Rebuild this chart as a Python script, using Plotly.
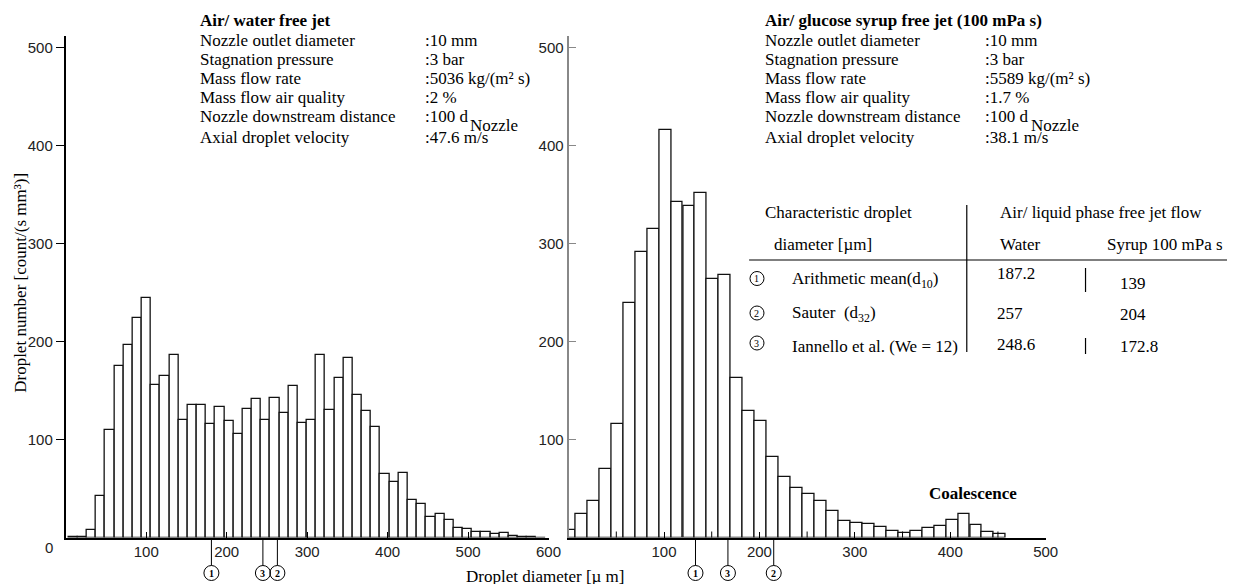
import plotly.graph_objects as go

W, H = 1243, 584

# ---------------- data ----------------
water_d = [9.0, 20.4, 31.8, 43.2, 54.6, 66.0, 77.4, 88.8, 100.2, 111.6, 123.0, 134.4, 145.8,
           157.2, 168.6, 180.0, 191.4, 202.8, 214.2, 225.6, 237.0, 248.4, 259.8, 271.2, 282.6,
           294.0, 305.4, 316.8, 328.2, 339.6, 351.0, 362.4, 373.8, 385.2, 396.6, 408.0, 419.4,
           430.8, 442.2, 453.6, 465.0, 476.4, 487.8, 499.2, 510.6, 522.0, 533.4, 544.8, 556.2,
           567.6, 579.0, 590.4]
water_n = [1, 1, 8, 42, 110, 175, 197, 224, 245, 156, 165, 186, 120,
           135, 135, 116, 133, 119, 106, 131, 141, 120, 142, 127, 155,
           117, 120, 186, 130, 163, 183, 145, 129, 113, 65, 57, 66,
           38, 34, 21, 24, 18, 10, 9, 6, 6, 4, 5, 2,
           1, 1, 0]

syrup_d = [0.9, 13.5, 26.0, 38.5, 51.1, 63.6, 76.1, 88.7, 101.2, 113.7, 126.3, 138.8, 151.3,
           163.9, 176.4, 188.9, 201.5, 214.0, 226.5, 239.1, 251.6, 264.1, 276.7, 289.2, 301.7,
           314.3, 326.8, 339.3, 351.9, 364.4, 376.9, 389.5, 402.0, 414.5, 427.1, 439.6, 452.1]
syrup_n = [8, 24, 37, 70, 116, 239, 291, 315, 416, 343, 338, 352, 264,
           268, 163, 129, 119, 82, 62, 51, 44.5, 37, 27, 16.5, 15,
           13.5, 10.4, 6.3, 4.6, 6.3, 9.4, 11.4, 18.2, 23.7, 12.4, 5.3, 3.6]

water_bin = 11.4
syrup_bin = 12.53

water_ticks = [100, 200, 300, 400, 500, 600]
syrup_ticks = [100, 200, 300, 400, 500]
syrup_minor = [50, 150, 250, 350, 450]
y_ticks = [100, 200, 300, 400, 500]

# characteristic diameters marked below the axes (label, position on axis)
water_marks = [("1", 181), ("3", 245), ("2", 263)]
syrup_marks = [("1", 133), ("3", 167), ("2", 215)]

water_info = ["Nozzle outlet diameter", "Stagnation pressure", "Mass flow rate",
              "Mass flow air quality", "Nozzle downstream distance", "Axial droplet velocity"]
water_vals = [":10 mm", ":3 bar", ":5036 kg/(m² s)", ":2 %", ":100 d", ":47.6 m/s"]
syrup_vals = [":10 mm", ":3 bar", ":5589 kg/(m² s)", ":1.7 %", ":100 d", ":38.1 m/s"]

table_rows = ["Arithmetic mean(d<sub>10</sub>)", "Sauter&nbsp; (d<sub>32</sub>)",
              "Iannello et al. (We = 12)"]
table_water = ["187.2", "257", "248.6"]
table_syrup = ["139", "204", "172.8"]

# ---------------- helpers ----------------
SERIF = "Liberation Serif, Times New Roman, serif"
SANS = "Liberation Sans, Arial, sans-serif"


def px(x):
    return x / W


def py(y):
    return 1 - y / H


annotations = []
shapes = []


def text(x, y, s, size=17, bold=False, anchor="left", family=SERIF, color="black"):
    if bold:
        s = "<b>" + s + "</b>"
    annotations.append(dict(x=px(x), y=py(y), xref="paper", yref="paper", text=s,
                            showarrow=False, xanchor=anchor, yanchor="middle",
                            font=dict(family=family, size=size, color=color)))


def pline(x0, y0, x1, y1, color="black", width=1.2):
    shapes.append(dict(type="line", xref="paper", yref="paper", x0=px(x0), y0=py(y0),
                       x1=px(x1), y1=py(y1), line=dict(color=color, width=width)))


def pcircle(x, y, r=7):
    shapes.append(dict(type="circle", xref="paper", yref="paper", xsizemode="pixel",
                       ysizemode="pixel", xanchor=px(x), yanchor=py(y), x0=-r, x1=r,
                       y0=-r, y1=r, line=dict(color="black", width=1)))


fig = go.Figure()
bar_line = dict(color="#111", width=1.3)
fig.add_trace(go.Bar(x=water_d, y=water_n, width=water_bin, xaxis="x", yaxis="y",
                     marker=dict(color="white", line=bar_line)))
fig.add_trace(go.Bar(x=syrup_d, y=syrup_n, width=syrup_bin, xaxis="x2", yaxis="y2",
                     marker=dict(color="white", line=bar_line)))

tickfont = dict(family=SANS, size=15, color="#222")
ydom = [py(537.5), py(36)]

fig.update_layout(
    width=W, height=H, autosize=False, margin=dict(l=0, r=0, t=0, b=0),
    paper_bgcolor="white", plot_bgcolor="white", showlegend=False, bargap=0,
    xaxis=dict(domain=[px(66.5), px(554.3)], range=[0, 600], anchor="y",
               showline=True, linecolor="black", linewidth=1.5, showgrid=False,
               zeroline=False, ticks="inside", ticklen=6, tickcolor="black",
               tickvals=water_ticks, tickfont=tickfont),
    yaxis=dict(domain=ydom, range=[0, 512], anchor="x", showline=True,
               linecolor="black", linewidth=2, showgrid=False, zeroline=False,
               ticks="outside", ticklen=8, tickcolor="black",
               tickvals=y_ticks, tickfont=tickfont),
    xaxis2=dict(domain=[px(574.6), px(1056.7)], range=[0, 500], anchor="y2",
                showline=True, linecolor="black", linewidth=1.5, showgrid=False,
                zeroline=False, ticks="inside", ticklen=6, tickcolor="black",
                tickvals=syrup_ticks, tickfont=tickfont),
    yaxis2=dict(domain=ydom, range=[0, 512], anchor="x2", showline=True,
                linecolor="#888", linewidth=2, showgrid=False, zeroline=False,
                ticks="inside", ticklen=7, tickcolor="#888",
                tickvals=y_ticks, tickfont=tickfont),
)

# minor ticks of the right x axis
for xv in syrup_minor:
    shapes.append(dict(type="line", xref="x2", yref="paper", x0=xv, x1=xv,
                       y0=py(537.5), y1=py(531.5), line=dict(color="black", width=1)))

# "0" label of left y axis
text(56, 547, "0", size=15, anchor="right", family=SANS, color="#222")

# characteristic diameter markers below the axes
for marks, xr in ((water_marks, "x"), (syrup_marks, "x2")):
    for lab, xv in marks:
        shapes.append(dict(type="line", xref=xr, yref="paper", x0=xv, x1=xv,
                           y0=py(538), y1=py(565.5), line=dict(color="black", width=1)))
        shapes.append(dict(type="circle", xref=xr, yref="paper", xsizemode="pixel",
                           ysizemode="pixel", xanchor=xv, yanchor=py(573), x0=-7.5, x1=7.5,
                           y0=-7.5, y1=7.5, line=dict(color="black", width=1)))
        annotations.append(dict(x=xv, y=py(573.5), xref=xr, yref="paper", text="<b>" + lab + "</b>",
                                showarrow=False, xanchor="center", yanchor="middle",
                                font=dict(family=SERIF, size=10, color="black")))

# axis titles
annotations.append(dict(x=px(20), y=py(283), xref="paper", yref="paper",
                        text="Droplet number [count/(s mm³)]", showarrow=False, textangle=-90,
                        xanchor="center", yanchor="middle",
                        font=dict(family=SERIF, size=17, color="black")))
text(551, 576, "Droplet diameter [µ m]", anchor="center")

# info blocks
rows_y = [40, 59.5, 78.5, 97.5, 116.5, 137]
text(200, 20, "Air/ water free jet", bold=True)
for yy, lab, val in zip(rows_y, water_info, water_vals):
    text(200, yy, lab)
    text(427, yy, val)
text(473, 126, "Nozzle")

text(771, 20, "Air/ glucose syrup free jet (100 mPa s)", bold=True)
for yy, lab, val in zip(rows_y, water_info, syrup_vals):
    text(771, yy, lab)
    text(993, yy, val)
text(1040, 125, "Nozzle")

# table
text(771, 212, "Characteristic droplet")
text(780, 244, "diameter [µm]")
text(1009, 212, "Air/ liquid phase free jet flow")
text(1009, 244, "Water")
text(1117, 244, "Syrup 100 mPa s")
pline(757, 260, 1240, 260)
pline(977, 205, 977, 352)
pline(1097, 268, 1097, 292)
pline(1097, 338, 1097, 354)
row_y = [280, 314, 346]
circ_y = [278.5, 313, 343]
val_y = [273, 313, 344]
for i in range(3):
    pcircle(765, circ_y[i], 7)
    annotations.append(dict(x=px(765), y=py(circ_y[i]), xref="paper", yref="paper",
                            text=str(i + 1), showarrow=False, xanchor="center",
                            yanchor="middle", font=dict(family=SERIF, size=10, color="black")))
    text(798, row_y[i], table_rows[i])
    text(1006, val_y[i], table_water[i])
    text(1130, row_y[i] + 3 if i == 0 else row_y[i], table_syrup[i])

# Coalescence
text(983, 493, "Coalescence", bold=True, anchor="center")

fig.update_layout(annotations=annotations, shapes=shapes)
fig.write_html("out.html",
               config={"responsive": False, "displayModeBar": False},
               post_script="document.body.style.margin='0';"
                           "document.body.style.overflow='hidden';")
